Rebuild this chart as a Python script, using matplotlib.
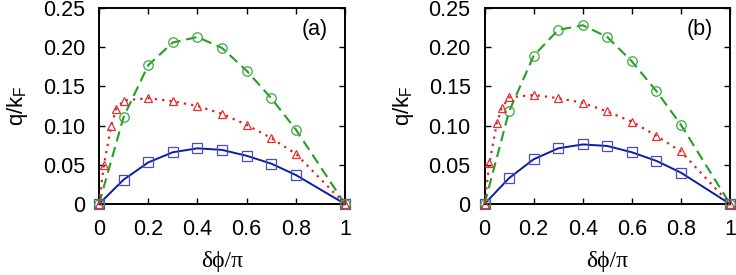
import matplotlib
matplotlib.use("Agg")
import matplotlib.pyplot as plt

# ---- data ----
x_main = [0.0, 0.1, 0.2, 0.3, 0.4, 0.5, 0.6, 0.7, 0.8, 1.0]
x_red = [0.0, 0.02, 0.05, 0.07, 0.1, 0.2, 0.3, 0.4, 0.5, 0.6, 0.7, 0.8, 1.0]

a_blue = [0, 0.031, 0.053, 0.066, 0.071, 0.069, 0.0615, 0.0515, 0.037, 0]
a_green = [0, 0.111, 0.177, 0.206, 0.213, 0.199, 0.170, 0.135, 0.095, 0]
a_red = [0, 0.050, 0.100, 0.121, 0.132, 0.135, 0.131, 0.125, 0.115, 0.101, 0.084, 0.064, 0]

b_blue = [0, 0.033, 0.057, 0.071, 0.076, 0.074, 0.066, 0.055, 0.040, 0]
b_green = [0, 0.118, 0.189, 0.222, 0.228, 0.213, 0.182, 0.144, 0.101, 0]
b_red = [0, 0.052, 0.103, 0.122, 0.136, 0.139, 0.135, 0.129, 0.118, 0.105, 0.087, 0.067, 0]

xticks = [0, 0.2, 0.4, 0.6, 0.8, 1.0]
xticklabels = ["0", "0.2", "0.4", "0.6", "0.8", "1"]
yticks = [0, 0.05, 0.10, 0.15, 0.20, 0.25]
yticklabels = ["0", "0.05", "0.10", "0.15", "0.20", "0.25"]
panel_labels = ["(a)", "(b)"]

plt.rcParams['font.family'] = ['Liberation Sans', 'DejaVu Sans']
plt.rcParams['mathtext.fontset'] = 'custom'
plt.rcParams['mathtext.rm'] = 'Liberation Sans'
plt.rcParams['mathtext.it'] = 'Liberation Sans'

fig = plt.figure(figsize=(7.36, 2.75), dpi=100)
ax_a = fig.add_axes([0.1345, 0.2582, 0.3343, 0.7127])
ax_b = fig.add_axes([0.6583, 0.2582, 0.3336, 0.7127])

BLUE_L = "#0b1e9e"
BLUE_M = "#4b4bc8"
GREEN = "#22a022"
GREEN_M = "#3aaa3a"
RED = "#e02020"
RED_M = "#e03030"

for ax, blue, green, red, lab in [(ax_a, a_blue, a_green, a_red, panel_labels[0]),
                                  (ax_b, b_blue, b_green, b_red, panel_labels[1])]:
    ax.plot(x_main, blue, color=BLUE_L, lw=1.4, ls='-', zorder=3, clip_on=False)
    ax.plot(x_main, green, color=GREEN, lw=1.5, ls=(0, (5, 2.8)), zorder=3, clip_on=False)
    ax.plot(x_red, red, color=RED, lw=1.6, ls=(0, (1, 2.3)), zorder=3, clip_on=False)
    ax.plot(x_main, blue, ls='none', marker='s', ms=6.8, mfc='none', mec=BLUE_M, mew=0.9,
            zorder=4, clip_on=False)
    ax.plot(x_main, green, ls='none', marker='o', ms=6.8, mfc='none', mec=GREEN_M, mew=0.9,
            zorder=4, clip_on=False)
    ax.plot(x_red, red, ls='none', marker='^', ms=5.8, mfc='none', mec=RED_M, mew=0.9,
            zorder=4, clip_on=False)

    ax.set_xlim(0, 1.0)
    ax.set_ylim(0, 0.25)
    ax.set_xticks(xticks)
    ax.set_xticklabels(xticklabels)
    ax.set_yticks(yticks)
    ax.set_yticklabels(yticklabels)
    ax.tick_params(direction='in', top=True, right=True, length=4, width=1.0,
                   labelsize=15.5)
    ax.tick_params(axis='x', pad=11)
    ax.tick_params(axis='y', pad=10)
    for s in ax.spines.values():
        s.set_linewidth(1.4)
    ax.set_xlabel("δϕ/π", family=['Liberation Serif', 'DejaVu Serif'], fontsize=17, labelpad=8)
    ax.set_ylabel(r"q/k$_\mathrm{F}$", fontsize=16, labelpad=9)
    ax.text(0.877, 0.888, lab, transform=ax.transAxes, ha='center', va='center', fontsize=15.5)

fig.savefig("out.png", dpi=100)
